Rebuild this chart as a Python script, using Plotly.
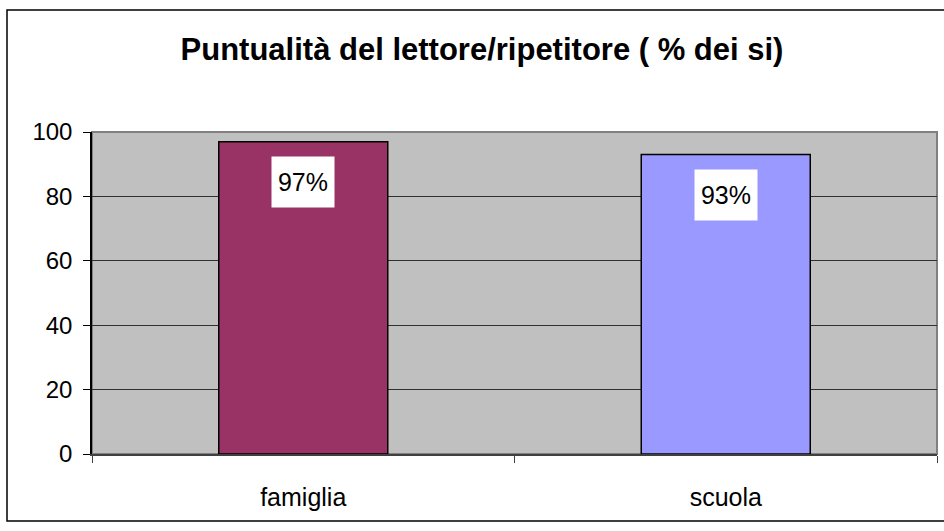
import plotly.graph_objects as go

categories = ["famiglia", "scuola"]
values = [97, 93]
labels = ["97%", "93%"]
colors = ["#993366", "#9999FF"]
y_ticks = [0, 20, 40, 60, 80, 100]

W, H = 944, 531
L, R, T, B = 92, 7, 132, 77
pw, ph = W - L - R, H - T - B

def px_x(x):
    return (x - L) / pw

def px_y(y):
    return (H - B - y) / ph

FONT = "Arial, Liberation Sans, sans-serif"

fig = go.Figure()
fig.add_trace(go.Bar(
    x=categories, y=values,
    marker=dict(color=colors, line=dict(color="black", width=1.5)),
    width=0.4,
    hoverinfo="skip",
))

for c, v, t in zip(categories, values, labels):
    fig.add_annotation(
        x=c, y=v, xref="x", yref="y", text=t, showarrow=False,
        yanchor="top", yshift=-14, bgcolor="white", width=60, height=48,
        font=dict(family=FONT, size=25, color="black"),
    )

# outer chart border
fig.add_shape(type="rect", xref="paper", yref="paper",
              x0=px_x(7), x1=px_x(960), y0=px_y(521), y1=px_y(10),
              line=dict(color="black", width=1.5), fillcolor="rgba(0,0,0,0)", layer="above")
# plot-area border (top/right grey)
fig.add_shape(type="rect", xref="paper", yref="paper", x0=0, x1=1, y0=0, y1=1,
              line=dict(color="#808080", width=2), fillcolor="rgba(0,0,0,0)", layer="below")

fig.update_layout(
    width=W, height=H,
    margin=dict(l=L, r=R, t=T, b=B),
    paper_bgcolor="white",
    plot_bgcolor="#C0C0C0",
    showlegend=False,
    bargap=0.6,
    font=dict(family=FONT, size=24, color="black"),
    title=dict(
        text="<b>Puntualità del lettore/ripetitore ( % dei si)</b>",
        x=px_x(482), xref="paper", xanchor="center",
        y=1 - 49 / H, yref="container", yanchor="middle",
        font=dict(family=FONT, size=31, color="black"),
    ),
    xaxis=dict(
        type="category", tickson="boundaries", ticks="outside", ticklen=7,
        tickcolor="#404040", showline=True, linecolor="#404040", linewidth=1.5,
        showgrid=False, ticklabelstandoff=20,
        tickfont=dict(size=25),
    ),
    yaxis=dict(
        range=[0, 100], tickvals=y_ticks, ticks="outside", ticklen=7,
        tickcolor="black", showline=True, linecolor="black", linewidth=1.5,
        showgrid=True, gridcolor="#303030", gridwidth=1, zeroline=False,
        ticklabelstandoff=6, tickfont=dict(size=24),
    ),
)

fig.write_html("out.html", config={"displayModeBar": False},
               post_script="document.body.style.margin='0px';")
